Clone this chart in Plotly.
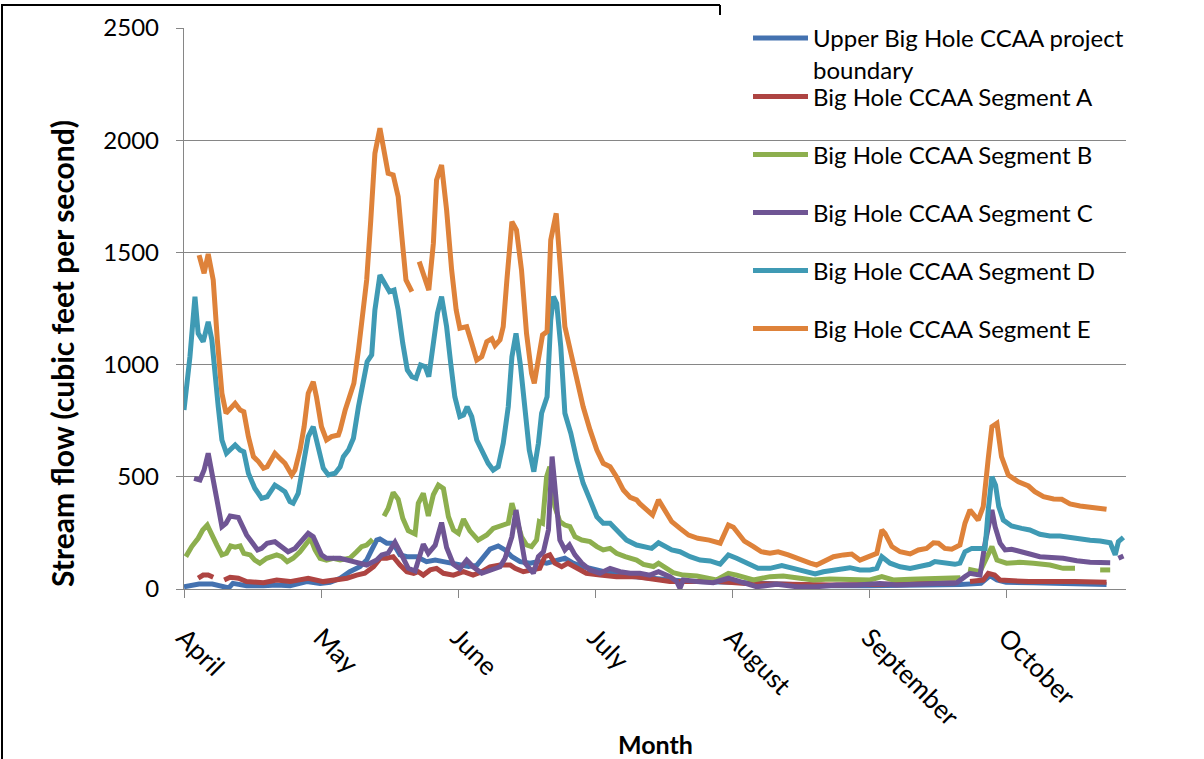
import plotly.graph_objects as go

# ---------------- data (day index from April 1, flow in cfs) ----------------
month_labels = ["April", "May", "June", "July", "August", "September", "October"]
month_start_days = [0, 30, 60, 90, 120, 150, 180]

series_names = [
    "Upper Big Hole CCAA project<br>boundary",
    "Big Hole CCAA Segment A",
    "Big Hole CCAA Segment B",
    "Big Hole CCAA Segment C",
    "Big Hole CCAA Segment D",
    "Big Hole CCAA Segment E",
]

days_upper = [0, 3.3, 6.2, 9.1, 9.8, 10.7, 13.7, 17.4, 20.3, 23.2, 26.9, 29.8, 32.0, 34.2, 36.3, 38.5, 40.0, 41.1, 42.2, 42.9,
              44.4, 45.8, 47.3, 48.8, 51.0, 53.1, 55.0, 56.8, 58.6, 60.4, 62.3, 64.1, 65.5, 67.0, 68.8, 70.3, 71.8, 73.6, 75.8, 77.6,
              79.4, 81.6, 83.4, 85.2, 87.4, 90.4, 93.3, 96.9, 102.0, 110, 120, 130, 140, 150, 160, 170, 174.5, 176.5, 178, 180,
              186, 195, 202]
flow_upper = [10, 22, 22, 10, 5, 25, 15, 15, 18, 15, 33, 25, 30, 48, 77, 99, 129, 174, 218, 223,
              204, 204, 152, 144, 144, 122, 129, 122, 115, 105, 100, 105, 140, 178, 192, 174, 144, 122, 115, 122,
              115, 129, 137, 115, 99, 85, 70, 58, 48, 35, 30, 20, 15, 15, 15, 20, 25, 60, 40, 30,
              28, 22, 20]

days_a = [3.1, 4.2, 5.3, 6.4, 7.5, 8.8, 10.1, 11.9, 13.7, 17.4, 20.3, 23.2, 27.2, 30.5, 33.4, 35.7, 37.8, 39.6, 41.5, 43.0,
          44.4, 45.8, 47.3, 48.8, 50.3, 51.3, 52.4, 53.9, 55.3, 56.8, 59.0, 61.2, 63.3, 65.2, 67.0, 69.2, 71.4, 72.5, 74.3, 75.8,
          77.9, 79.0, 80.1, 81.2, 82.7, 84.1, 85.9, 88.1, 91.1, 94.7, 99.1, 102.0, 104.0, 106.4, 112, 117, 123, 128, 135, 142,
          150, 158, 165, 169, 170.5, 172.1, 175.0, 176.1, 177.5, 178.7, 181, 185, 195, 202]
flow_a = [48, 62, 62, 52, None, 40, 52, 48, 33, 28, 40, 33, 48, 33, 40, 48, 62, 70, 99, 137,
          137, 144, 107, 77, 70, 77, 62, 85, 92, 70, 62, 77, 62, 77, 99, 107, 107, 92, 77, 85,
          92, 144, 152, 115, 99, 115, 92, 70, 62, 55, 55, 48, 40, 33, 33, 33, 25, 22, 18, 18,
          20, 25, 28, 28, None, 33, 40, 70, 62, 40, 37, 33, 33, 30]

days_b = [0.4, 1.7, 3.1, 4.1, 5.1, 6.1, 7.2, 8.3, 9.3, 10.2, 11.2, 12.3, 13.1, 14.5, 15.5, 16.6, 18.1, 20.3, 21.4, 22.6,
          23.9, 25.4, 26.9, 27.7, 28.7, 29.8, 31.2, 32.7, 34.2, 36.3, 37.8, 38.9, 40.0, 41.3, 42.5, 43.8, 44.7, 45.8, 46.9, 47.9,
          49.1, 50.6, 51.3, 52.4, 53.5, 54.6, 55.7, 56.8, 57.9, 59.0, 60.1, 61.2, 62.6, 64.4, 66.3, 67.7, 69.9, 71.0, 71.8, 72.8,
          73.9, 75.0, 76.1, 77.2, 77.8, 78.5, 79.4, 80.1, 81.2, 82.3, 83.4, 84.5, 85.6, 87.1, 88.9, 90.4, 91.8, 93.3, 94.7, 96.6,
          99.1, 100.6, 102.8, 103.9, 105.0, 107.1, 109.3, 112.3, 116.6, 119.2, 121.0, 124.7, 128.3, 131.2, 134.9, 137.8, 141.4, 145.8, 150.2, 152.8,
          155.3, 159.0, 163.4, 166.3, 170.0, 170.8, 171.7, 174.3, 176.9, 178.0, 180.1, 183.0, 186.0, 189.6, 192.5, 195.1, 197.5, 200.6, 202.8]
flow_b = [144, 189, 226, 263, 285, 248, 196, 152, 159, 192, 186, 192, 159, 152, 129, 115, 137, 152, 144, 122,
          137, 166, 204, 226, 174, 137, 129, 137, 129, 137, 166, 189, 196, 221, None, 325, 359, 430, 400, 315,
          260, 245, 382, 426, 326, 420, 463, 448, 322, 263, 248, 311, 259, 218, 241, 270, 285, 293, 382, 307,
          233, 196, 189, 218, 300, 293, 500, 545, 367, 300, 285, 278, 233, 218, 211, 189, 174, 181, 159, 144,
          129, 110, 100, 115, 99, 73, 62, 58, 40, 70, 62, 40, 55, 58, 48, 40, 45, 40, 40, 55,
          40, 43, 48, 48, 50, None, 88, 77, 189, 129, 115, 119, 115, 107, 92, 92, None, 85, 85]

days_c = [2.2, 3.5, 4.4, 5.3, 6.4, 7.3, 8.3, 9.2, 10.1, 11.9, 12.8, 13.7, 14.8, 16.1, 17.0, 18.2, 19.9, 21.0, 22.8, 24.3,
          26.1, 27.2, 28.3, 29.2, 30.1, 31.2, 34.2, 37.1, 40.0, 42.2, 43.3, 44.7, 46.2, 47.7, 49.1, 50.6, 51.7, 52.4, 53.5, 55.0,
          56.4, 57.5, 59.0, 60.4, 61.9, 63.3, 65.2, 67.4, 69.2, 70.3, 71.8, 72.7, 73.6, 74.7, 76.5, 77.6, 78.7, 79.8, 80.6, 81.5,
          82.3, 83.4, 84.4, 85.6, 87.1, 88.9, 91.1, 93.3, 95.5, 97.7, 99.8, 102.0, 103.9, 106.4, 107.9, 108.6, 109.3, 112.3, 115.9, 119.2,
          121.7, 125.4, 129.8, 134.2, 138.5, 142.9, 147.3, 152.4, 156.0, 160.4, 164.8, 169.2, 171.0, 172.1, 174.3, 175.4, 176.9, 177.6, 178.7, 179.8,
          181.2, 183.4, 185.2, 187.4, 190.3, 192.5, 195.5, 198.4, 202.8, 203.7, 204.6, 205.7]
flow_c = [493, 486, 530, 605, 486, 382, 278, 293, 325, 319, 278, 241, 211, 174, 181, 204, 211, 196, 166, 181,
          218, 248, 233, 189, 152, 137, 137, 122, 107, 129, 152, 160, 208, 150, 92, 80, 150, 200, 159, 195,
          296, 185, 110, 90, 129, 99, 70, 85, 99, 137, 233, 352, 233, 115, 70, 144, 166, 263, 590, 411,
          218, 174, 196, 152, 115, 85, 70, 92, 77, 70, 70, 62, 77, 55, 33, 3, 40, 33, 28, 48,
          33, 10, 21, 10, 10, 18, 18, 25, 18, 21, 25, 28, 55, 70, 62, 204, 352, 278, 204, 174,
          177, 163, 156, 144, 139, 137, 126, 119, 117, None, 137, 147]

days_d = [0, 1.3, 2.4, 3.1, 4.2, 5.3, 6.1, 6.8, 7.5, 8.3, 9.3, 11.2, 12.3, 13.1, 14.1, 15.5, 17.0, 18.2, 19.9, 21.0,
          22.1, 23.2, 23.9, 25.0, 26.1, 27.2, 28.3, 29.4, 30.5, 31.6, 33.1, 34.2, 34.9, 36.0, 37.1, 38.2, 39.3, 40.1, 41.1, 41.8,
          42.9, 44.0, 45.0, 46.0, 46.9, 47.9, 48.9, 49.9, 50.8, 51.8, 52.8, 53.6, 54.6, 55.5, 56.4, 57.5, 58.4, 59.3, 60.4, 61.2,
          62.0, 63.0, 64.1, 65.5, 66.6, 67.7, 68.8, 69.9, 71.0, 71.8, 72.7, 73.7, 74.7, 75.6, 76.6, 77.6, 78.3, 79.5, 80.3, 80.9,
          81.6, 82.5, 83.4, 84.7, 86.0, 87.4, 88.9, 90.4, 91.8, 93.3, 95.1, 96.9, 99.1, 102.4, 103.9, 105.0, 106.8, 108.6, 110.8, 113.0,
          115.2, 117.4, 119.2, 121.0, 123.2, 125.7, 128.3, 130.9, 133.4, 136.0, 138.2, 140.0, 142.9, 145.8, 148.0, 150.2, 151.7, 152.8, 154.6, 156.8,
          159.0, 161.2, 163.3, 164.4, 166.2, 168.8, 169.9, 171.0, 172.5, 174.3, 175.4, 176.1, 176.9, 177.7, 178.4, 179.4, 181.2, 183.4, 185.2, 187.4,
          189.6, 191.8, 194.0, 196.2, 198.4, 200.6, 202.8, 203.9, 204.6, 205.7]
flow_d = [798, 1035, 1303, 1139, 1102, 1191, 1110, 931, 812, 664, 605, 642, 619, 612, 516, 449, 404, 411, 463, 449,
          434, 389, 382, 426, 545, 679, 723, 634, 538, 508, 516, 545, 590, 619, 672, 812, 946, 1013, 1043, 1243,
          1399, 1362, 1325, 1332, 1243, 1095, 976, 946, 939, 998, 991, 946, 1095, 1229, 1303, 1169, 1006, 857, 768, 775,
          812, 768, 664, 605, 560, 530, 545, 649, 812, 1035, 1139, 991, 783, 619, 523, 649, 783, 857, 1199, 1303,
          1273, 1080, 783, 694, 575, 471, 397, 322, 293, 293, 255, 218, 196, 181, 206, 196, 174, 166, 144, 129,
          125, 111, 152, 137, 115, 92, 92, 104, 92, 77, 67, 77, 85, 95, 85, 85, 92, 144, 115, 99,
          92, 99, 110, 122, 115, 110, 115, 166, 181, 178, 181, 352, 500, 463, 367, 307, 281, 270, 263, 244,
          236, 236, 229, 221, 217, 214, 206, 152, 211, 230]

days_e = [3.3, 4.4, 5.3, 6.4, 7.3, 8.3, 9.2, 11.2, 12.3, 13.1, 14.1, 15.2, 16.3, 17.4, 18.2, 19.9, 21.0, 22.1, 23.6, 24.3,
          25.4, 26.3, 27.2, 28.3, 29.0, 30.1, 31.2, 32.3, 33.8, 34.2, 35.3, 36.3, 37.2, 38.2, 39.3, 40.0, 40.9, 41.8, 42.9, 44.0,
          44.7, 45.8, 46.9, 47.7, 48.6, 49.9, 50.7, 51.5, 52.5, 53.6, 54.6, 55.3, 56.4, 57.5, 58.6, 59.6, 60.4, 61.9, 63.0, 64.1,
          65.2, 66.3, 67.4, 68.1, 69.2, 69.9, 70.7, 71.8, 72.8, 73.9, 75.0, 76.1, 76.7, 77.6, 78.5, 79.5, 80.3, 81.5, 82.3, 83.4,
          84.9, 86.1, 87.4, 88.9, 90.4, 91.8, 93.3, 94.7, 96.2, 97.7, 99.1, 99.8, 102.6, 103.9, 105.2, 106.8, 108.6, 110.5, 112.5, 115.0,
          117.4, 119.2, 120.3, 122.7, 124.7, 126.4, 128.3, 130.1, 132.3, 134.9, 137.1, 138.5, 140.0, 142.2, 144.4, 146.2, 148.0, 150.2, 151.7, 152.8,
          153.5, 155.0, 156.8, 159.0, 160.8, 162.6, 164.1, 165.2, 166.6, 168.1, 169.9, 171.0, 172.1, 173.9, 175.0, 176.1, 176.9, 178.0, 179.0, 180.5,
          182.7, 184.9, 186.3, 188.2, 190.4, 192.2, 194.0, 196.2, 198.4, 200.6, 202.0]
flow_e = [1488, 1407, 1493, 1377, 1110, 872, 783, 827, 798, 790, 679, 590, 568, 538, 545, 605, 582, 560, 508, 530,
          619, 723, 872, 924, 857, 723, 664, 679, 686, 709, 798, 857, 917, 1065, 1243, 1377, 1644, 1941, 2053, 1941,
          1852, 1845, 1748, 1570, 1377, 1325, None, 1459, 1392, 1332, 1540, 1823, 1889, 1689, 1422, 1243, 1162, 1169, 1095, 1020,
          1035, 1102, 1115, 1085, 1110, 1169, 1377, 1637, 1600, 1422, 1139, 961, 917, 1035, 1132, 1147, 1555, 1674, 1451, 1169,
          1035, 917, 812, 709, 619, 560, 545, 500, 441, 408, 397, 380, 330, 397, 355, 300, 270, 240, 226, 218,
          204, 285, 275, 213, 189, 166, 159, 166, 152, 129, 115, 107, 122, 144, 152, 156, 129, 144, 159, 263,
          248, 189, 166, 156, 174, 181, 206, 204, 181, 177, 196, 293, 352, 307, 367, 582, 723, 738, 590, 508,
          478, 459, 434, 411, 401, 400, 379, 370, 364, 360, 355]

series_days = [days_upper, days_a, days_b, days_c, days_d, days_e]
series_flows = [flow_upper, flow_a, flow_b, flow_c, flow_d, flow_e]
series_colors = ["#4472B0", "#AE4442", "#8DAF4E", "#6F5594", "#3F9AB4", "#DE823A"]

# ---------------- layout geometry ----------------
W, H = 1204, 759
L, R, T, B = 184, 1126, 28, 589  # plot area in pixels


def px_x(px):
    return (px - L) / (R - L)


def px_y(py):
    return (B - py) / (B - T)


FONT = "Lato"
fig = go.Figure()
legend_rows = [54, 97, 155, 213, 271, 329]
legend_keys = ["legend", "legend2", "legend3", "legend4", "legend5", "legend6"]

for i in range(6):
    assert len(series_days[i]) == len(series_flows[i]), i
    fig.add_trace(go.Scatter(
        x=series_days[i], y=series_flows[i], mode="lines", name=series_names[i],
        line=dict(color=series_colors[i], width=5), connectgaps=False,
        legend=legend_keys[i], hoverinfo="skip"))

layout_legends = {}
for i, key in enumerate(legend_keys):
    layout_legends[key] = dict(
        x=px_x(748), y=px_y(legend_rows[i]), xanchor="left", yanchor="middle",
        bgcolor="rgba(0,0,0,0)", borderwidth=0, valign="top",
        font=dict(family=FONT, size=24, color="black"), itemwidth=55)

fig.update_layout(
    width=W, height=H,
    margin=dict(l=L, r=W - R, t=T, b=H - B, pad=0, autoexpand=False),
    paper_bgcolor="white", plot_bgcolor="white",
    font=dict(family=FONT, color="black"),
    showlegend=True,
    **layout_legends,
)

fig.update_xaxes(
    range=[0, (R - L) / 4.567], tickvals=month_start_days, ticktext=month_labels,
    tickangle=45, ticks="outside", ticklen=8, tickcolor="#868686", tickwidth=1.3,
    showline=True, linecolor="#868686", linewidth=1.3, showgrid=False, zeroline=False,
    tickfont=dict(family=FONT, size=26, color="black"), ticklabelstandoff=14,
    automargin=False,
)
fig.update_yaxes(
    range=[0, 2500], dtick=500, ticks="outside", ticklen=7, tickcolor="#868686", tickwidth=1.3,
    showline=True, linecolor="#868686", linewidth=1.3, showgrid=True, gridcolor="#868686",
    gridwidth=1.3, zeroline=False, tickfont=dict(family=FONT, size=24, color="black"),
    ticklabelstandoff=12, automargin=False,
)

fig.add_annotation(text="<b>Stream flow (cubic feet per second)</b>", xref="paper", yref="paper",
                   x=px_x(62), y=px_y(354), textangle=-90, showarrow=False,
                   font=dict(family=FONT, size=30, color="black"), xanchor="center", yanchor="middle")
fig.add_annotation(text="<b>Month</b>", xref="paper", yref="paper",
                   x=px_x(655), y=px_y(744), showarrow=False,
                   font=dict(family=FONT, size=25, color="black"), xanchor="center", yanchor="middle")

# chart frame lines
fig.add_shape(type="line", xref="paper", yref="paper", x0=px_x(2), y0=px_y(5), x1=px_x(2), y1=px_y(759),
              line=dict(color="black", width=2))
fig.add_shape(type="line", xref="paper", yref="paper", x0=px_x(1), y0=px_y(5), x1=px_x(720), y1=px_y(5),
              line=dict(color="black", width=2))
fig.add_shape(type="line", xref="paper", yref="paper", x0=px_x(720), y0=px_y(5), x1=px_x(720), y1=px_y(15),
              line=dict(color="black", width=2))

# remove the browser's default 8px page margin so the figure sits at the window origin
fig.write_html("out.html", config={"displayModeBar": False},
               post_script="document.body.style.margin='0';")
